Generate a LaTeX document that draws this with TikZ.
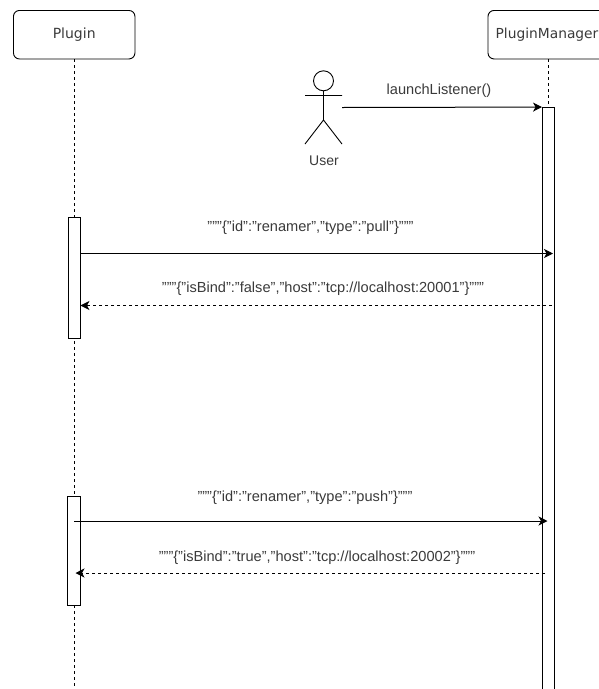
\documentclass[tikz,border=0pt]{standalone}
\usepackage{fontspec}
\setmainfont{Liberation Sans}
\newfontfamily\headfont{DejaVu Sans}
\usetikzlibrary{arrows.meta}
\definecolor{txtgray}{HTML}{3A3A3A}
\begin{document}
\begin{tikzpicture}[x=1pt,y=-1pt,line width=0.9pt,
    head/.style={draw,rounded corners=6pt,minimum width=121.5pt,minimum height=48.5pt,text=txtgray,font=\headfont\fontsize{14pt}{16pt}\selectfont},
    actbar/.style={draw,fill=white,minimum width=12pt,inner sep=0pt},
    msg/.style={text=txtgray,inner sep=0pt,font=\fontsize{14.6pt}{17pt}\selectfont},
    life/.style={dash pattern=on 3pt off 3pt},
    call/.style={-{Stealth[length=9pt,width=9pt,inset=2.5pt]},line width=1pt},
    ret/.style={-{Stealth[length=9pt,width=9pt,inset=2.5pt]},dash pattern=on 3pt off 3pt}]
    \useasboundingbox (0,0) rectangle (599,689);
    \node[head] (plugin) at (74.2,34.7) {Plugin};
    \node[head,minimum width=118pt,font=\headfont\fontsize{13.8pt}{16pt}\selectfont] (manager) at (547,34.7) {PluginManager};

    \draw[life] (plugin.south) -- (74.2,689);

    \node[actbar,minimum height=121pt] (pullbar) at (74,277.5) {};
    \node[actbar,minimum height=109.5pt,minimum width=13pt] (pushbar) at (73.5,551) {};
    \node[actbar,minimum height=600pt] (managerbar) at (548.5,407.5) {};

    \draw[life] (manager.south -| managerbar.north) -- (managerbar.north);

    \draw (323.5,80.8) circle (10);
    \coordinate (neck) at (323.5,90.8);
    \coordinate (hip) at (323.5,120);
    \coordinate (armL) at (305,95.5);
    \coordinate (armR) at (342,95.5);
    \coordinate (footL) at (305,144);
    \coordinate (footR) at (342,144);
    \draw (neck) -- (hip) (armL) -- (armR) (footL) -- (hip) -- (footR);
    \node[msg,font=\fontsize{14pt}{16pt}\selectfont] (user) at (324,160.5) {User};

    \coordinate (userout) at (342,107.5);
    \coordinate (pullout) at (pullbar.east |- 0,253.5);
    \coordinate (pullin) at (553,253.5);
    \coordinate (pullback) at (552,305.5);
    \coordinate (pullend) at (pullbar.east |- 0,305.5);
    \coordinate (pushout) at (74,521);
    \coordinate (pushin) at (547.5,521);
    \coordinate (pushback) at (545,573);
    \coordinate (pushend) at (75.5,573);

    \draw[call] (userout) -- (managerbar.north west);
    \draw[call] (pullout) -- (pullin);
    \draw[ret] (pullback) -- (pullend);
    \draw[call] (pushout) -- (pushin);
    \draw[ret] (pushback) -- (pushend);

    \node[msg] (launch) at (439,90.5) {launchListener()};
    \node[msg] (pullmsg) at (310.5,228) {"""\{"id":"renamer","type":"pull"\}"""};
    \node[msg] (pullans) at (323,288.5) {"""\{"isBind":"false","host":"tcp://localhost:20001"\}"""};
    \node[msg] (pushmsg) at (305,497.5) {"""\{"id":"renamer","type":"push"\}"""};
    \node[msg] (pushans) at (317,558) {"""\{"isBind":"true","host":"tcp://localhost:20002"\}"""};
\end{tikzpicture}
\end{document}
